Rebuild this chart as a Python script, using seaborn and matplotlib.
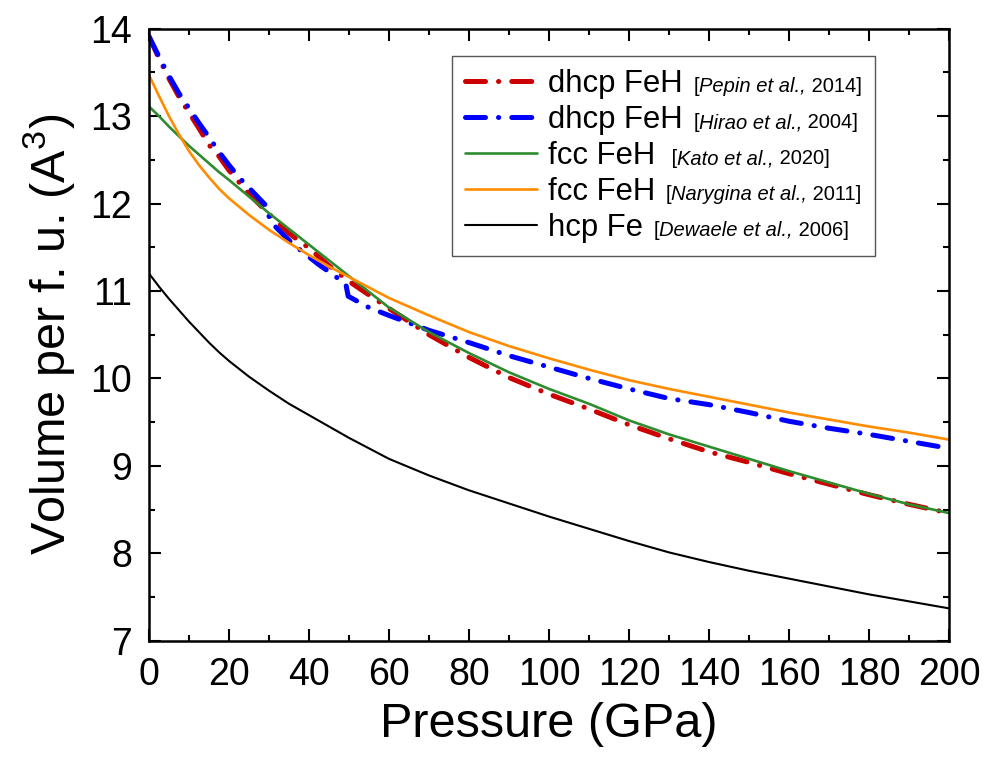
import matplotlib
matplotlib.use("Agg")
import matplotlib.pyplot as plt
import seaborn as sns
import pandas as pd
from matplotlib.ticker import MultipleLocator
from matplotlib.offsetbox import TextArea, HPacker

# ---------------- data ----------------
P_std = [0, 2.5, 5, 7.5, 10, 12.5, 15, 17.5, 20, 25, 30, 35, 40, 45, 50, 60, 70,
         80, 90, 100, 110, 120, 130, 140, 150, 160, 170, 180, 190, 200]

V_pepin = [13.91, 13.66, 13.43, 13.22, 13.04, 12.86, 12.67, 12.54, 12.38, 12.11,
           11.88, 11.66, 11.49, 11.29, 11.11, 10.80, 10.50, 10.24, 10.01, 9.82,
           9.65, 9.47, 9.31, 9.16, 9.04, 8.91, 8.79, 8.67, 8.56, 8.46]

P_hirao = [0, 2.5, 5, 7.5, 10, 12.5, 15, 17.5, 20, 22.5, 25, 27.5, 29.6, 30.2, 35,
           37.5, 40, 42.5, 45, 49.2, 49.8, 55, 60, 70, 80, 90, 100, 110, 120,
           130, 140, 150, 160, 170, 180, 190, 200]
V_hirao = [13.91, 13.68, 13.46, 13.26, 13.09, 12.92, 12.76, 12.59, 12.44, 12.30,
           12.18, 12.06, 11.96, 11.80, 11.58, 11.48, 11.39, 11.30, 11.22, 11.08,
           10.94, 10.81, 10.72, 10.55, 10.41, 10.26, 10.13, 10.00, 9.88, 9.77,
           9.70, 9.61, 9.51, 9.43, 9.36, 9.28, 9.20]

V_kato = [13.11, 13.00, 12.88, 12.77, 12.66, 12.56, 12.46, 12.36, 12.27, 12.08,
          11.89, 11.71, 11.53, 11.35, 11.17, 10.81, 10.53, 10.29, 10.07, 9.88,
          9.71, 9.52, 9.36, 9.22, 9.08, 8.94, 8.81, 8.68, 8.56, 8.46]

V_narygina = [13.47, 13.23, 13.00, 12.79, 12.60, 12.44, 12.30, 12.17, 12.06, 11.87,
              11.70, 11.55, 11.41, 11.28, 11.16, 10.92, 10.72, 10.53, 10.37, 10.23,
              10.10, 9.98, 9.88, 9.79, 9.70, 9.61, 9.53, 9.45, 9.38, 9.30]

V_dewaele = [11.20, 11.05, 10.91, 10.78, 10.65, 10.53, 10.41, 10.30, 10.20, 10.02,
             9.86, 9.71, 9.58, 9.45, 9.32, 9.08, 8.89, 8.72, 8.57, 8.42,
             8.28, 8.14, 8.01, 7.90, 7.80, 7.71, 7.62, 7.53, 7.45, 7.37]

labels = ["dhcp FeH", "dhcp FeH", "fcc FeH", "fcc FeH", "hcp Fe"]
cite_authors = ["Pepin et al.,", "Hirao et al.,", "Kato et al.,",
                "Narygina et al.,", "Dewaele et al.,"]
cite_years = ["2014", "2004", "2020", "2011", "2006"]
cite_lead = ["[", "[", " [", "[", "["]

# ---------------- style ----------------
sns.set_theme(style="ticks")
plt.rcParams["font.family"] = ["Liberation Sans", "DejaVu Sans"]
plt.rcParams["mathtext.fontset"] = "custom"
plt.rcParams["mathtext.rm"] = "Liberation Sans"
plt.rcParams["mathtext.it"] = "Liberation Sans:italic"
for k in ["text.color", "axes.labelcolor", "xtick.color", "ytick.color",
          "axes.edgecolor"]:
    plt.rcParams[k] = "black"

fig = plt.figure(figsize=(9.86, 7.60), dpi=100)
ax = fig.add_axes([149 / 986, 1 - 640.7 / 760, 800 / 986, 612 / 760])

dashdot = (0, (4.0, 2.6, 0.05, 2.6))
series = [
    (P_std, V_pepin, "#CC0000", 3.6, dashdot),
    (P_hirao, V_hirao, "#0000FF", 3.6, dashdot),
    (P_std, V_kato, "#2E8B2E", 1.9, "-"),
    (P_std, V_narygina, "#FF8C00", 1.9, "-"),
    (P_std, V_dewaele, "black", 1.5, "-"),
]

for (px, vy, col, lw, ls), lab in zip(series, labels):
    df = pd.DataFrame({"P": px, "V": vy})
    sns.lineplot(data=df, x="P", y="V", color=col, linewidth=lw, linestyle=ls,
                 dash_capstyle="round", ax=ax, label=lab, legend=False)

ax.set_xlim(0, 200)
ax.set_ylim(7, 14)
ax.xaxis.set_major_locator(MultipleLocator(20))
ax.xaxis.set_minor_locator(MultipleLocator(10))
ax.yaxis.set_major_locator(MultipleLocator(1))
ax.yaxis.set_minor_locator(MultipleLocator(0.5))
ax.tick_params(which="both", direction="in", top=True, right=True, width=1.5,
               color="black")
ax.tick_params(which="major", length=8.5, labelsize=27)
ax.tick_params(axis="x", which="major", pad=12)
ax.tick_params(axis="y", which="major", pad=12)
ax.tick_params(which="minor", length=4.3)
for s in ax.spines.values():
    s.set_linewidth(1.8)
    s.set_color("black")

ax.set_xlabel("Pressure (GPa)", fontsize=35, labelpad=6)
ax.set_ylabel("Volume per f. u. (A$^{3}$)", fontsize=35, labelpad=10)

handles = ax.get_lines()[:5]
leg = ax.legend(handles, labels, loc="upper left", bbox_to_anchor=(0.379, 0.955),
                borderaxespad=0, fontsize=22.4, handlelength=2.3,
                handletextpad=0.35, labelspacing=0.19, borderpad=0.42,
                frameon=True, fancybox=False, framealpha=1)
leg.get_frame().set_edgecolor("#555555")
leg.get_frame().set_linewidth(1.0)

cprops = dict(fontsize=14.5, color="black", family="Liberation Sans")
items = leg._legend_handle_box.get_children()[0].get_children()
for item, lead, auth, yr in zip(items, cite_lead, cite_authors, cite_years):
    parts = [TextArea(lead, textprops=cprops),
             TextArea(auth, textprops=dict(cprops, style="italic")),
             TextArea(" " + yr + "]", textprops=cprops)]
    box = HPacker(children=parts, pad=0, sep=0, align="baseline")
    box.set_figure(fig)
    for p in parts:
        p.set_figure(fig)
    item.get_children().append(box)

fig.savefig("out.png", dpi=100)
